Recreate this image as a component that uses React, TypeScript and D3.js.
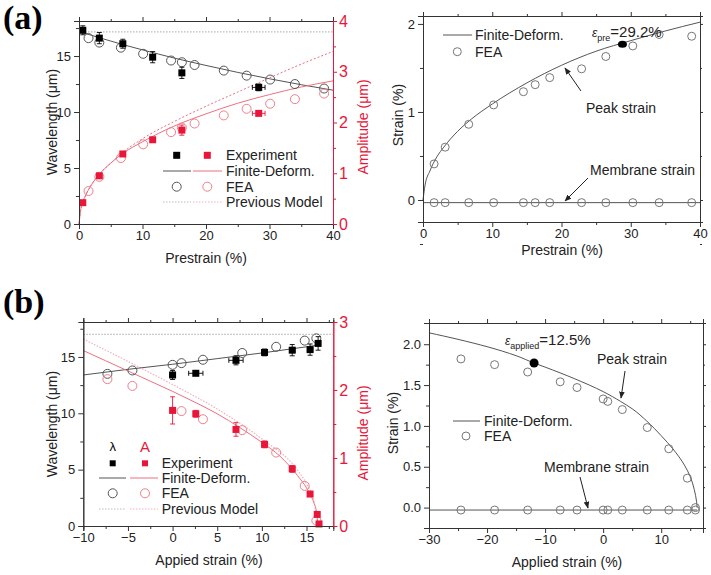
import React, { useEffect, useRef } from 'react';
import * as d3 from 'd3';

// ---- panel (a) left : wavelength / amplitude vs prestrain
const aStrainExp = [0.6, 3.2, 6.9, 11.6, 16.2, 28.3];
const aLambdaExp = [17.3, 16.6, 16.1, 14.9, 13.5, 12.2];
const aLambdaErr = [0.4, 0.5, 0.4, 0.5, 0.5, 0.3];
const aStrainErr = [0, 0, 0, 0, 0, 1.0];
const aAmpExp = [0.42, 0.95, 1.38, 1.66, 1.85, 2.18];
const aAmpErr = [0, 0, 0, 0, 0.1, 0];
const aStrainFea = [1.5, 3.2, 6.6, 10.1, 14.5, 16.2, 18.2, 22.8, 26.4, 30.1, 34.0, 38.6];
const aLambdaFea = [16.6, 16.2, 15.75, 15.2, 14.6, 14.45, 14.2, 13.7, 13.25, 12.9, 12.5, 12.1];
const aAmpFea = [0.65, 0.93, 1.3, 1.57, 1.81, 1.9, 1.98, 2.14, 2.27, 2.37, 2.46, 2.57];
const aStrainCurve = [0, 1, 2, 3, 5, 7, 10, 15, 20, 25, 30, 35, 40];
const aLambdaCurve = [17.2, 17.02, 16.85, 16.67, 16.34, 16.01, 15.55, 14.82, 14.16, 13.54, 12.97, 12.44, 11.95];
const aAmpStrainCurve = [0, 0.3, 1, 2, 3, 5, 7, 10, 15, 20, 25, 30, 35, 40];
const aAmpCurve = [0, 0.3, 0.55, 0.78, 0.95, 1.2, 1.4, 1.62, 1.93, 2.17, 2.38, 2.55, 2.7, 2.82];
const aAmpPrevStrain = [0, 0.3, 1, 2, 3, 5, 7, 10, 15, 20, 25, 30, 35, 40];
const aAmpPrev = [0, 0.3, 0.55, 0.78, 0.95, 1.2, 1.42, 1.68, 2.02, 2.32, 2.6, 2.88, 3.15, 3.4];
const aLambdaPrev = 17.15;

// ---- panel (a) right : strain vs prestrain
const arStrainCurve = [0, 0.3, 1, 2, 3, 5, 7, 10, 15, 20, 25, 30, 35, 40];
const arPeakCurve = [0, 0.17, 0.33, 0.49, 0.6, 0.78, 0.92, 1.09, 1.33, 1.53, 1.69, 1.81, 1.92, 2.02];
const arStrainFea = [1.6, 3.2, 6.6, 10.2, 14.5, 16.2, 18.3, 22.9, 26.4, 30.3, 34.1, 38.8];
const arPeakFea = [0.41, 0.6, 0.86, 1.08, 1.23, 1.31, 1.39, 1.49, 1.63, 1.75, 1.88, 1.86];
const arMembraneFea = [-0.03, -0.03, -0.03, -0.03, -0.03, -0.03, -0.03, -0.03, -0.03, -0.03, -0.03, -0.03];
const arMembrane = -0.03;
const arMark = [28.8, 1.77];

// ---- panel (b) left : wavelength / amplitude vs applied strain
const bStrainExp = [0, 2.6, 7.1, 10.3, 13.4, 15.4, 16.3];
const bLambdaExp = [13.4, 13.55, 14.7, 15.4, 15.6, 15.65, 16.2];
const bLambdaErr = [0.4, 0.2, 0.4, 0.3, 0.5, 0.5, 0.6];
const bStrainErr = [0.3, 0.8, 0.8, 0.3, 0.3, 0.3, 0.2];
const bAmpStrainExp = [0, 2.6, 7.1, 10.3, 13.4, 15.4, 16.2, 16.4];
const bAmpExp = [1.7, 1.65, 1.42, 1.2, 0.84, 0.47, 0.17, 0.03];
const bAmpErr = [0.2, 0.05, 0.1, 0.05, 0.05, 0.03, 0, 0];
const bStrainFea = [-7.3, -4.5, 0, 1.0, 3.4, 7.8, 11.6, 14.8, 16.1];
const bLambdaFea = [13.5, 13.8, 14.3, 14.45, 14.75, 15.35, 15.9, 16.45, 16.65];
const bAmpStrainFea = [-7.3, -4.5, 1.0, 3.4, 7.8, 11.6, 14.8, 16.1];
const bAmpFea = [2.16, 2.06, 1.69, 1.57, 1.41, 1.08, 0.59, 0.08];
const bStrainCurve = [-10, -5, 0, 5, 10, 15, 16.3];
const bLambdaCurve = [13.4, 13.9, 14.35, 14.85, 15.35, 15.9, 16.05];
const bAmpStrainCurve = [-10, -7.5, -5, -2.5, 0, 2.5, 5, 7.5, 10, 12, 14, 15, 15.8, 16.1, 16.3];
const bAmpCurve = [2.58, 2.43, 2.28, 2.13, 1.98, 1.82, 1.65, 1.45, 1.23, 1.03, 0.74, 0.56, 0.35, 0.22, 0];
const bAmpPrevStrain = [-10, -5, 0, 5, 10, 14, 15, 15.8, 16.3];
const bAmpPrev = [2.75, 2.42, 2.08, 1.72, 1.28, 0.82, 0.62, 0.38, 0];
const bLambdaPrev = 17.0;

// ---- panel (b) right : strain vs applied strain
const brStrainCurve = [-30, -25, -20, -15, -11.9, -10, -5, 0, 3, 5, 7.5, 10, 12, 14, 15, 15.7, 16.1, 16.2];
const brPeakCurve = [2.14, 2.06, 1.97, 1.86, 1.77, 1.72, 1.58, 1.42, 1.3, 1.21, 1.06, 0.88, 0.72, 0.52, 0.38, 0.22, 0.07, 0];
const brStrainFea = [-24.5, -18.7, -13.0, -7.4, -4.5, 0, 0.8, 3.3, 7.6, 11.3, 14.5, 15.9];
const brPeakFea = [1.82, 1.75, 1.66, 1.54, 1.47, 1.33, 1.3, 1.2, 0.98, 0.72, 0.36, 0.0];
const brMembraneFea = [-0.03, -0.03, -0.03, -0.03, -0.03, -0.03, -0.03, -0.03, -0.03, -0.03, -0.03, -0.03];
const brMembrane = -0.03;
const brMark = [-11.9, 1.77];

const FONT = 'Liberation Sans, Arial, sans-serif';
const RED = '#e8173a';
const RED_LINE = '#ef6f80';
const RED_LIGHT = '#f4b0b8';
const GREY_LINE = '#555';

type Sel = d3.Selection<SVGGElement, unknown, null, undefined>;

function frame(g: Sel, x: any, y: any, xMajor: number[], xMinor: number[], yMajor: number[], yMinor: number[], yFmt: (d: any) => string, rightAxis: boolean) {
  const [x0, x1] = x.range();
  const [y0, y1] = y.range();
  const col = '#333';
  const bottom = g.append('g').attr('transform', `translate(0,${y0})`);
  bottom.call(d3.axisBottom(x).tickValues(xMajor).tickSize(5).tickPadding(2).tickFormat(d3.format('d')));
  bottom.append('g').call(d3.axisBottom(x).tickValues(xMinor).tickSize(3).tickFormat(() => ''));
  const top = g.append('g').attr('transform', `translate(0,${y1})`);
  top.call(d3.axisTop(x).tickValues(xMajor).tickSize(4).tickFormat(() => ''));
  top.append('g').call(d3.axisTop(x).tickValues(xMinor).tickSize(2).tickFormat(() => ''));
  const left = g.append('g').attr('transform', `translate(${x0},0)`);
  left.call(d3.axisLeft(y).tickValues(yMajor).tickSize(5).tickPadding(3).tickFormat(yFmt));
  left.append('g').call(d3.axisLeft(y).tickValues(yMinor).tickSize(3).tickFormat(() => ''));
  if (rightAxis) {
    const right = g.append('g').attr('transform', `translate(${x1},0)`);
    right.call(d3.axisRight(y).tickValues(yMajor).tickSize(3).tickFormat(() => ''));
    right.append('g').call(d3.axisRight(y).tickValues(yMinor).tickSize(2).tickFormat(() => ''));
  }
  g.selectAll('.domain').attr('stroke', col);
  g.selectAll('.tick line').attr('stroke', col);
  g.selectAll('.tick text').attr('font-family', FONT).attr('font-size', 13).attr('fill', '#222');
}

function redAxis(g: Sel, x1: number, a: any, major: number[], minor: number[]) {
  const ax = g.append('g').attr('transform', `translate(${x1},0)`);
  ax.call(d3.axisRight(a).tickValues(major).tickSize(4).tickPadding(2).tickFormat(d3.format('d')));
  ax.append('g').call(d3.axisRight(a).tickValues(minor).tickSize(3).tickFormat(() => ''));
  ax.selectAll('.domain').attr('stroke', RED);
  ax.selectAll('.tick line').attr('stroke', RED);
  ax.selectAll('.tick text').attr('font-family', FONT).attr('font-size', 16).attr('fill', RED);
}

function line(g: Sel, xs: number[], ys: number[], x: any, y: any, color: string, dash?: string, w = 1) {
  const pts = xs.map((v, i) => [v, ys[i]] as [number, number]);
  g.append('path').datum(pts)
    .attr('fill', 'none').attr('stroke', color).attr('stroke-width', w)
    .attr('stroke-dasharray', dash || null)
    .attr('d', d3.line<[number, number]>().x(d => x(d[0])).y(d => y(d[1])).curve(d3.curveMonotoneX));
}

function circles(g: Sel, xs: number[], ys: number[], x: any, y: any, color: string, r = 4.5) {
  g.append('g').selectAll('circle').data(xs.map((v, i) => [v, ys[i]])).join('circle')
    .attr('cx', d => x(d[0])).attr('cy', d => y(d[1])).attr('r', r)
    .attr('fill', 'none').attr('stroke', color).attr('stroke-width', 1);
}

function squares(g: Sel, xs: number[], ys: number[], ye: number[], xe: number[], x: any, y: any, color: string, s = 7) {
  const eg = g.append('g').attr('stroke', color).attr('stroke-width', 0.9);
  xs.forEach((v, i) => {
    const cx = x(v), cy = y(ys[i]);
    if (ye[i] > 0) {
      const t = y(ys[i] + ye[i]), b = y(ys[i] - ye[i]);
      eg.append('line').attr('x1', cx).attr('x2', cx).attr('y1', t).attr('y2', b);
      eg.append('line').attr('x1', cx - 2.5).attr('x2', cx + 2.5).attr('y1', t).attr('y2', t);
      eg.append('line').attr('x1', cx - 2.5).attr('x2', cx + 2.5).attr('y1', b).attr('y2', b);
    }
    if (xe[i] > 0) {
      const l = x(v - xe[i]), r = x(v + xe[i]);
      eg.append('line').attr('x1', l).attr('x2', r).attr('y1', cy).attr('y2', cy);
      eg.append('line').attr('x1', l).attr('x2', l).attr('y1', cy - 2.5).attr('y2', cy + 2.5);
      eg.append('line').attr('x1', r).attr('x2', r).attr('y1', cy - 2.5).attr('y2', cy + 2.5);
    }
  });
  g.append('g').selectAll('rect').data(xs.map((v, i) => [v, ys[i]])).join('rect')
    .attr('x', d => x(d[0]) - s / 2).attr('y', d => y(d[1]) - s / 2)
    .attr('width', s).attr('height', s).attr('fill', color);
}

function text(g: Sel, x: number, y: number, s: string, size = 14, fill = '#222', anchor = 'start', rotate = false) {
  const t = g.append('text').attr('x', x).attr('y', y).attr('font-family', FONT).attr('font-size', size)
    .attr('fill', fill).attr('text-anchor', anchor).text(s);
  if (rotate) t.attr('transform', `rotate(-90,${x},${y})`);
  return t;
}

function arrow(g: Sel, x1: number, y1: number, x2: number, y2: number) {
  g.append('line').attr('x1', x1).attr('y1', y1).attr('x2', x2).attr('y2', y2)
    .attr('stroke', '#222').attr('stroke-width', 1).attr('marker-end', 'url(#arr)');
}

function epsLabel(g: Sel, x: number, y: number, sub: string, rest: string) {
  const t = g.append('text').attr('x', x).attr('y', y).attr('font-family', FONT).attr('fill', '#222');
  t.append('tspan').attr('font-size', 12).attr('font-style', 'italic').text('ε');
  t.append('tspan').attr('font-size', 9).attr('dy', 4).text(sub);
  t.append('tspan').attr('font-size', 15).attr('dy', -4).text(rest);
}

export default function App() {
  const ref = useRef<SVGSVGElement>(null);

  useEffect(() => {
    const svg = d3.select(ref.current);
    svg.selectAll('*').remove();
    svg.append('rect').attr('width', 711).attr('height', 575).attr('fill', '#fff');
    svg.append('defs').append('marker').attr('id', 'arr').attr('viewBox', '0 0 10 10')
      .attr('refX', 9).attr('refY', 5).attr('markerWidth', 7).attr('markerHeight', 7).attr('orient', 'auto')
      .append('path').attr('d', 'M0,1 L10,5 L0,9 z').attr('fill', '#222');
    const root = svg.append('g') as unknown as Sel;

    // panel labels
    root.append('text').attr('x', 3).attr('y', 29).attr('font-family', 'Liberation Serif, Times New Roman, serif')
      .attr('font-weight', 'bold').attr('font-size', 34).text('(a)');
    root.append('text').attr('x', 3).attr('y', 313).attr('font-family', 'Liberation Serif, Times New Roman, serif')
      .attr('font-weight', 'bold').attr('font-size', 34).text('(b)');

    // ---------- (a) left
    {
      const g = root.append('g') as unknown as Sel;
      const x = d3.scaleLinear().domain([0, 40]).range([79, 333]);
      const y = d3.scaleLinear().domain([0, 18.13]).range([224, 21]);
      const a = d3.scaleLinear().domain([0, 4]).range([224, 21]);
      line(g, [0, 40], [aLambdaPrev, aLambdaPrev], x, y, '#bbb', '1.5,1.5', 1.2);
      line(g, aAmpPrevStrain, aAmpPrev, x, a, RED_LINE, '2,2');
      line(g, aStrainCurve, aLambdaCurve, x, y, GREY_LINE);
      line(g, aAmpStrainCurve, aAmpCurve, x, a, RED_LINE);
      circles(g, aStrainFea, aLambdaFea, x, y, '#555');
      circles(g, aStrainFea, aAmpFea, x, a, '#ef7f8c');
      squares(g, aStrainExp, aLambdaExp, aLambdaErr, aStrainErr, x, y, '#000');
      squares(g, aStrainExp, aAmpExp, aAmpErr, aStrainErr, x, a, RED);
      frame(g, x, y, [0, 10, 20, 30, 40], [5, 15, 25, 35], [0, 5, 10, 15], [2.5, 7.5, 12.5, 17.5], d3.format('d'), false);
      redAxis(g, 333, a, [0, 1, 2, 3, 4], [0.5, 1.5, 2.5, 3.5]);
      text(g, 206, 263, 'Prestrain (%)', 14, '#222', 'middle');
      text(g, 57, 122, 'Wavelength (μm)', 14, '#222', 'middle', true);
      text(g, 368, 127, 'Amplitude (μm)', 14, RED, 'middle', true);
      // legend
      const lg = g.append('g') as unknown as Sel;
      squares(lg, [0], [0], [0], [0], () => 176.7, () => 155.3, '#000');
      squares(lg, [0], [0], [0], [0], () => 207.3, () => 155.3, RED);
      lg.append('line').attr('x1', 163).attr('x2', 191).attr('y1', 171).attr('y2', 171).attr('stroke', GREY_LINE);
      lg.append('line').attr('x1', 193).attr('x2', 222).attr('y1', 171).attr('y2', 171).attr('stroke', RED_LINE);
      circles(lg, [0], [0], () => 176.7, () => 186.7, '#555');
      circles(lg, [0], [0], () => 207.3, () => 186.7, '#ef7f8c');
      lg.append('line').attr('x1', 163).attr('x2', 191).attr('y1', 202).attr('y2', 202).attr('stroke', '#bbb').attr('stroke-dasharray', '1.5,1.5');
      lg.append('line').attr('x1', 193).attr('x2', 222).attr('y1', 202).attr('y2', 202).attr('stroke', RED_LIGHT).attr('stroke-dasharray', '1.5,1.5');
      text(lg, 226, 160, 'Experiment', 14);
      text(lg, 226, 176, 'Finite-Deform.', 14);
      text(lg, 226, 192, 'FEA', 14);
      text(lg, 226, 207, 'Previous Model', 14);
    }

    // ---------- (a) right
    {
      const g = root.append('g') as unknown as Sel;
      const x = d3.scaleLinear().domain([0, 40]).range([423, 700]);
      const y = d3.scaleLinear().domain([-0.25, 2.09]).range([222, 16]);
      line(g, [0, 40], [arMembrane, arMembrane], x, y, GREY_LINE);
      line(g, arStrainCurve, arPeakCurve, x, y, GREY_LINE);
      circles(g, arStrainFea, arPeakFea, x, y, '#777', 4);
      circles(g, arStrainFea, arMembraneFea, x, y, '#777', 4);
      g.append('ellipse').attr('cx', x(arMark[0])).attr('cy', y(arMark[1])).attr('rx', 4.5).attr('ry', 3.5).attr('fill', '#000');
      frame(g, x, y, [0, 10, 20, 30, 40], [5, 15, 25, 35], [0, 1, 2], [-0.5, 0.5, 1.5], d3.format('d'), true);
      text(g, 562, 255, 'Prestrain (%)', 14, '#222', 'middle');
      text(g, 403, 115, 'Strain (%)', 14, '#222', 'middle', true);
      epsLabel(g, 592, 37, 'pre', '=29.2%');
      text(g, 586, 113, 'Peak strain', 14);
      arrow(g, 581, 91, 565, 68);
      text(g, 590, 175, 'Membrane strain', 14);
      arrow(g, 588, 178, 565, 201);
      g.append('line').attr('x1', 443).attr('x2', 472).attr('y1', 35).attr('y2', 35).attr('stroke', GREY_LINE);
      circles(g, [0], [0], () => 457.3, () => 51.7, '#777', 4);
      text(g, 475, 40, 'Finite-Deform.', 14);
      text(g, 475, 57, 'FEA', 14);
    }

    // ---------- (b) left
    {
      const g = root.append('g') as unknown as Sel;
      const x = d3.scaleLinear().domain([-10, 18]).range([83.3, 333.3]);
      const y = d3.scaleLinear().domain([0, 18.1]).range([526, 322]);
      const a = d3.scaleLinear().domain([0, 3]).range([526, 322]);
      line(g, [-10, 18], [bLambdaPrev, bLambdaPrev], x, y, '#bbb', '1.5,1.5', 1.2);
      line(g, bAmpPrevStrain, bAmpPrev, x, a, RED_LIGHT, '1.5,1.5', 1.2);
      line(g, bStrainCurve, bLambdaCurve, x, y, GREY_LINE);
      line(g, bAmpStrainCurve, bAmpCurve, x, a, RED_LINE);
      circles(g, bStrainFea, bLambdaFea, x, y, '#555');
      circles(g, bAmpStrainFea, bAmpFea, x, a, '#ef7f8c');
      squares(g, bStrainExp, bLambdaExp, bLambdaErr, bStrainErr, x, y, '#000');
      squares(g, bAmpStrainExp, bAmpExp, bAmpErr, bAmpStrainExp.map(() => 0), x, a, RED);
      frame(g, x, y, [-10, -5, 0, 5, 10, 15], [-7.5, -2.5, 2.5, 7.5, 12.5, 17.5], [0, 5, 10, 15], [2.5, 7.5, 12.5, 17.5], d3.format('d'), false);
      redAxis(g, 333.3, a, [0, 1, 2, 3], [0.5, 1.5, 2.5]);
      text(g, 209, 565, 'Appied strain (%)', 14, '#222', 'middle');
      text(g, 57, 424, 'Wavelength (μm)', 14, '#222', 'middle', true);
      text(g, 368, 433, 'Amplitude (μm)', 14, RED, 'middle', true);
      // legend
      const lg = g.append('g') as unknown as Sel;
      text(lg, 112.7, 451, 'λ', 13, '#000', 'middle');
      text(lg, 145, 452, 'A', 15, RED, 'middle');
      squares(lg, [0], [0], [0], [0], () => 112.7, () => 463.3, '#000', 6);
      squares(lg, [0], [0], [0], [0], () => 145, () => 463.3, RED, 6);
      lg.append('line').attr('x1', 99).attr('x2', 126).attr('y1', 478).attr('y2', 478).attr('stroke', GREY_LINE);
      lg.append('line').attr('x1', 130).attr('x2', 158).attr('y1', 478).attr('y2', 478).attr('stroke', RED_LINE);
      circles(lg, [0], [0], () => 112.7, () => 493.3, '#555');
      circles(lg, [0], [0], () => 145, () => 493.3, '#ef7f8c');
      lg.append('line').attr('x1', 99).attr('x2', 126).attr('y1', 509).attr('y2', 509).attr('stroke', '#bbb').attr('stroke-dasharray', '1.5,1.5');
      lg.append('line').attr('x1', 130).attr('x2', 158).attr('y1', 509).attr('y2', 509).attr('stroke', RED_LIGHT).attr('stroke-dasharray', '1.5,1.5');
      text(lg, 161.7, 468, 'Experiment', 14);
      text(lg, 161.7, 483, 'Finite-Deform.', 14);
      text(lg, 161.7, 498, 'FEA', 14);
      text(lg, 161.7, 514, 'Previous Model', 14);
    }

    // ---------- (b) right
    {
      const g = root.append('g') as unknown as Sel;
      const x = d3.scaleLinear().domain([-30, 17.2]).range([429, 703]);
      const y = d3.scaleLinear().domain([-0.25, 2.26]).range([528, 323]);
      line(g, [-30, 16.2], [brMembrane, brMembrane], x, y, GREY_LINE);
      g.append('path').datum(brStrainCurve.map((v, i) => [v, brPeakCurve[i]] as [number, number]))
        .attr('fill', 'none').attr('stroke', GREY_LINE)
        .attr('d', d3.line<[number, number]>().x(d => x(d[0])).y(d => y(d[1])).curve(d3.curveMonotoneY));
      circles(g, brStrainFea, brPeakFea, x, y, '#777', 4);
      circles(g, brStrainFea, brMembraneFea, x, y, '#777', 4);
      g.append('circle').attr('cx', x(brMark[0])).attr('cy', y(brMark[1])).attr('r', 4.5).attr('fill', '#000');
      frame(g, x, y, [-30, -20, -10, 0, 10], [-25, -15, -5, 5, 15], [0, 0.5, 1, 1.5, 2], [0.25, 0.75, 1.25, 1.75], d3.format('.1f'), true);
      text(g, 567, 567, 'Applied strain (%)', 14, '#222', 'middle');
      text(g, 398, 423, 'Strain (%)', 14, '#222', 'middle', true);
      epsLabel(g, 505, 345, 'applied', '=12.5%');
      text(g, 597, 364, 'Peak strain', 14);
      arrow(g, 625, 371, 621, 398);
      text(g, 544, 472, 'Membrane strain', 14);
      arrow(g, 580, 477, 588, 508);
      g.append('line').attr('x1', 453).attr('x2', 480).attr('y1', 421).attr('y2', 421).attr('stroke', GREY_LINE);
      circles(g, [0], [0], () => 466, () => 436, '#777', 4);
      text(g, 484, 426, 'Finite-Deform.', 14);
      text(g, 484, 441, 'FEA', 14);
    }
  }, []);

  return (
    <div style={{ position: 'absolute', left: 0, top: 0 }}>
      <svg ref={ref} width={711} height={575} style={{ display: 'block' }} />
    </div>
  );
}
